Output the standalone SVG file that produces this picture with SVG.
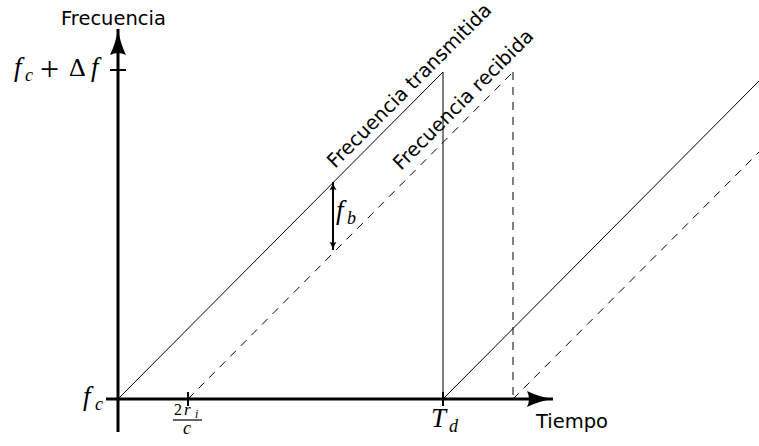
<svg xmlns="http://www.w3.org/2000/svg" width="759" height="446" viewBox="0 0 759 446">
<style>
.lbl{font-family:"DejaVu Sans",sans-serif;font-size:19.5px;fill:#000}
.math{font-family:"Liberation Serif",serif;font-style:italic;fill:#000}
.mup{font-family:"Liberation Serif",serif;font-style:normal;fill:#000}
.thin{stroke:#000;stroke-width:1;fill:none}
.dash{stroke:#000;stroke-width:1;fill:none;stroke-dasharray:8 7}
.axis{stroke:#000;stroke-width:3;fill:none}
.tick{stroke:#000;stroke-width:2;fill:none}
</style>
<defs>
<marker id="axhead" markerUnits="userSpaceOnUse" markerWidth="30" markerHeight="20" viewBox="-27 -10 30 20" refX="0" refY="0" orient="auto">
<path d="M0,0 C-9,1.5 -18,4 -26,8 Q-22,0 -26,-8 C-18,-4 -9,-1.5 0,0 Z" fill="#000"/>
</marker>
<marker id="small" markerUnits="userSpaceOnUse" markerWidth="12" markerHeight="10" viewBox="-9 -5 10 10" refX="0" refY="0" orient="auto-start-reverse">
<path d="M0,0 C-3,0.8 -6,2 -8,3.5 Q-6.5,0 -8,-3.5 C-6,-2 -3,-0.8 0,0 Z" fill="#000"/>
</marker>
</defs>

<g id="connectors">
<line id="transmitted-1" class="thin" x1="118" y1="399" x2="443" y2="72"/>
<line id="drop" class="thin" x1="443" y1="72" x2="443" y2="399"/>
<line id="transmitted-2" class="thin" x1="443" y1="399" x2="759" y2="81"/>
<line id="received-1" class="dash" x1="188" y1="399" x2="513" y2="72"/>
<line id="received-drop" class="dash" x1="513" y1="72" x2="513" y2="399"/>
<line id="received-2" class="dash" x1="513" y1="399" x2="759" y2="152"/>
<line id="fb-arrow" stroke="#000" stroke-width="2" x1="333" y1="182" x2="333" y2="250" marker-start="url(#small)" marker-end="url(#small)"/>
</g>

<g id="axes">
<line id="y-axis" class="axis" x1="118" y1="432" x2="118" y2="29" marker-end="url(#axhead)"/>
<line id="x-axis" class="axis" x1="106" y1="399" x2="553" y2="399" marker-end="url(#axhead)"/>
<line class="tick" x1="110" y1="70" x2="126" y2="70"/>
<line class="tick" x1="188" y1="392" x2="188" y2="406"/>
<line class="tick" x1="443" y1="392" x2="443" y2="406"/>
</g>

<g id="label-frecuencia"><text class="lbl" x="61" y="25">Frecuencia</text></g>
<g id="label-tiempo"><text class="lbl" x="536" y="428">Tiempo</text></g>

<g id="label-fcdf">
<text class="math" x="14" y="76" font-size="27">f</text>
<text class="math" x="25" y="81" font-size="18">c</text>
<text class="mup" x="40" y="80" font-size="34">+</text>
<text class="mup" x="69" y="76" font-size="26">Δ</text>
<text class="math" x="91" y="76" font-size="27">f</text>
</g>
<g id="label-fc">
<text class="math" x="83" y="405" font-size="27">f</text>
<text class="math" x="95" y="410" font-size="18">c</text>
</g>

<g id="label-2ric">
<text class="mup" x="174" y="415" font-size="16">2</text>
<text class="math" x="184" y="415" font-size="17">r</text>
<text class="math" x="195" y="418" font-size="12">i</text>
<line stroke="#000" stroke-width="1.2" x1="173" y1="420" x2="202" y2="420"/>
<text class="math" x="183" y="434" font-size="18">c</text>
</g>

<g id="label-td">
<text class="math" x="431" y="427" font-size="27">T</text>
<text class="math" x="449" y="432" font-size="18">d</text>
</g>

<g id="label-fb">
<text class="math" x="336" y="219" font-size="27">f</text>
<text class="math" x="347" y="224" font-size="18">b</text>
</g>

<g id="label-transmitida"><text class="lbl" transform="translate(335,169) rotate(-45)">Frecuencia transmitida</text></g>
<g id="label-recibida"><text class="lbl" transform="translate(401,171) rotate(-45)">Frecuencia recibida</text></g>
</svg>
